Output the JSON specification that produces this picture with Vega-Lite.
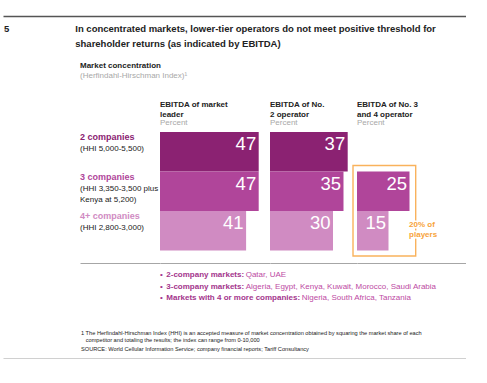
{
  "$schema": "https://vega.github.io/schema/vega-lite/v6.json",
  "padding": {"left": 0, "top": 16, "right": 0, "bottom": 0},
  "autosize": {"type": "pad"},
  "background": "#ffffff",
  "spacing": 0,
  "config": {
    "view": {"stroke": null},
    "font": "Liberation Sans",
    "title": {"anchor": "start", "frame": "group", "font": "Liberation Sans", "subtitleFont": "Liberation Sans"}
  },
  "datasets": {
    "ebitda": [
      {"row": "2 companies", "col": "c1", "value": 47},
      {"row": "3 companies", "col": "c1", "value": 47},
      {"row": "4+ companies", "col": "c1", "value": 41},
      {"row": "2 companies", "col": "c2", "value": 37},
      {"row": "3 companies", "col": "c2", "value": 35},
      {"row": "4+ companies", "col": "c2", "value": 30},
      {"row": "3 companies", "col": "c3", "value": 25},
      {"row": "4+ companies", "col": "c3", "value": 15}
    ],
    "rows": [
      {"row": "2 companies", "name": "2 companies", "detail": "(HHI 5,000-5,500)"},
      {"row": "3 companies", "name": "3 companies", "detail": "(HHI 3,350-3,500 plus\nKenya at 5,200)"},
      {"row": "4+ companies", "name": "4+ companies", "detail": "(HHI 2,800-3,000)"}
    ],
    "bullets": [
      {"line": 1, "prefix": "2-company markets:", "rest": "Qatar, UAE"},
      {"line": 2, "prefix": "3-company markets:", "rest": "Algeria, Egypt, Kenya, Kuwait, Morocco, Saudi Arabia"},
      {"line": 3, "prefix": "Markets with 4 or more companies:", "rest": "Nigeria, South Africa, Tanzania"}
    ],
    "note": [{"note": "20% of\nplayers"}]
  },
  "vconcat": [
    {
      "width": 463,
      "height": 46,
      "title": {
        "text": ["5\u00a0\u00a0\u00a0\u00a0\u00a0\u00a0\u00a0\u00a0\u00a0\u00a0\u00a0\u00a0\u00a0\u00a0\u00a0\u00a0\u00a0\u00a0\u00a0\u00a0\u00a0\u00a0\u00a0\u00a0\u00a0In concentrated markets, lower-tier operators do not meet positive threshold for", "\u200b\u00a0\u00a0\u00a0\u00a0\u00a0\u00a0\u00a0\u00a0\u00a0\u00a0\u00a0\u00a0\u00a0\u00a0\u00a0\u00a0\u00a0\u00a0\u00a0\u00a0\u00a0\u00a0\u00a0\u00a0\u00a0\u00a0\u00a0shareholder returns (as indicated by EBITDA)"],
        "orient": "top", "anchor": "start", "frame": "group", "dx": 1, "offset": -32,
        "fontSize": 9.5, "fontWeight": "bold", "color": "#222222", "lineHeight": 15
      },
      "data": {"values": [{}]},
      "mark": {"type": "point", "opacity": 0},
      "encoding": {
        "x": {"datum": 0, "type": "quantitative", "scale": {"domain": [0, 1], "nice": false},
          "axis": {"orient": "top", "domain": true, "domainColor": "#555555", "domainWidth": 1.3, "ticks": false, "labels": false, "grid": false, "title": null}}
      }
    },
    {
      "bounds": "flush",
      "spacing": 0,
      "hconcat": [
        {"width": 77, "height": 131, "data": {"values": []}, "mark": "point", "encoding": {}},
        {
          "width": 80, "height": 131,
          "title": {"text": "Market concentration", "subtitle": "(Herfindahl-Hirschman Index)¹", "fontSize": 8, "fontWeight": "bold", "color": "#222222", "subtitleFontSize": 8, "subtitleColor": "#A8A8A8", "subtitlePadding": 2, "offset": 52, "anchor": "start", "frame": "group"},
          "data": {"name": "rows"},
          "encoding": {
            "x": {"datum": 0, "type": "quantitative", "scale": {"domain": [0, 1], "nice": false},
              "axis": {"orient": "bottom", "domain": true, "domainColor": "#A6A6A6", "domainWidth": 1, "ticks": false, "labels": false, "grid": false, "title": null}},
            "y": {"field": "row", "type": "nominal", "bandPosition": 0, "scale": {"type": "band", "domain": ["2 companies", "3 companies", "4+ companies"], "paddingInner": 0, "paddingOuter": 0.158, "align": 0}, "axis": null}
          },
          "layer": [
            {"mark": {"type": "text", "align": "left", "baseline": "alphabetic", "dy": 8, "fontSize": 9, "fontWeight": "bold"},
              "encoding": {"text": {"field": "name"}, "color": {"field": "row", "type": "nominal", "scale": {"domain": ["2 companies", "3 companies", "4+ companies"], "range": ["#8B2272", "#B0459A", "#D08BC2"]}, "legend": null}}},
            {"mark": {"type": "text", "align": "left", "baseline": "alphabetic", "dy": 19, "fontSize": 8, "lineHeight": 11, "lineBreak": "\n", "color": "#1A1A1A"},
              "encoding": {"text": {"field": "detail"}}}
          ]
        },
        {
          "width": 110, "height": 131,
          "title": {"text": ["EBITDA of market", "leader"], "subtitle": "Percent", "fontSize": 8, "fontWeight": "bold", "color": "#222222", "lineHeight": 10, "subtitleFontSize": 8, "subtitleColor": "#A8A8A8", "subtitlePadding": 0, "offset": 5, "anchor": "start", "frame": "group"},
          "data": {"name": "ebitda"},
          "transform": [{"filter": "datum.col === 'c1'"}],
          "layer": [
            {"mark": {"type": "bar"},
              "encoding": {
                "x": {"field": "value", "type": "quantitative", "scale": {"domain": [0, 52.38], "nice": false, "zero": false},
                  "axis": {"orient": "bottom", "domain": true, "domainColor": "#A6A6A6", "domainWidth": 1, "ticks": false, "labels": false, "grid": false, "title": null}},
                "y": {"field": "row", "type": "nominal", "scale": {"type": "band", "domain": ["2 companies", "3 companies", "4+ companies"], "paddingInner": 0, "paddingOuter": 0.158, "align": 0}, "axis": null},
                "color": {"field": "row", "type": "nominal", "scale": {"domain": ["2 companies", "3 companies", "4+ companies"], "range": ["#8B2272", "#AD4597", "#CC83BA"]}, "legend": null}
              }},
            {"mark": {"type": "text", "align": "right", "baseline": "alphabetic", "dx": -2.5, "dy": 18, "fontSize": 18.5, "color": "#ffffff"},
              "encoding": {
                "x": {"field": "value", "type": "quantitative"},
                "y": {"field": "row", "type": "nominal", "bandPosition": 0},
                "text": {"field": "value", "type": "quantitative"}
              }}
          ]
        },
        {
          "width": 87, "height": 131,
          "title": {"text": ["EBITDA of No.", "2 operator"], "subtitle": "Percent", "fontSize": 8, "fontWeight": "bold", "color": "#222222", "lineHeight": 10, "subtitleFontSize": 8, "subtitleColor": "#A8A8A8", "subtitlePadding": 0, "offset": 5, "anchor": "start", "frame": "group"},
          "data": {"name": "ebitda"},
          "transform": [{"filter": "datum.col === 'c2'"}],
          "layer": [
            {"mark": {"type": "bar"},
              "encoding": {
                "x": {"field": "value", "type": "quantitative", "scale": {"domain": [0, 41.43], "nice": false, "zero": false},
                  "axis": {"orient": "bottom", "domain": true, "domainColor": "#A6A6A6", "domainWidth": 1, "ticks": false, "labels": false, "grid": false, "title": null}},
                "y": {"field": "row", "type": "nominal", "scale": {"type": "band", "domain": ["2 companies", "3 companies", "4+ companies"], "paddingInner": 0, "paddingOuter": 0.158, "align": 0}, "axis": null},
                "color": {"field": "row", "type": "nominal", "scale": {"domain": ["2 companies", "3 companies", "4+ companies"], "range": ["#8B2272", "#AD4597", "#CC83BA"]}, "legend": null}
              }},
            {"mark": {"type": "text", "align": "right", "baseline": "alphabetic", "dx": -2.5, "dy": 18, "fontSize": 18.5, "color": "#ffffff"},
              "encoding": {
                "x": {"field": "value", "type": "quantitative"},
                "y": {"field": "row", "type": "nominal", "bandPosition": 0},
                "text": {"field": "value", "type": "quantitative"}
              }}
          ]
        },
        {
          "width": 109, "height": 131,
          "title": {"text": ["EBITDA of No. 3", "and 4 operator"], "subtitle": "Percent", "fontSize": 8, "fontWeight": "bold", "color": "#222222", "lineHeight": 10, "subtitleFontSize": 8, "subtitleColor": "#A8A8A8", "subtitlePadding": 0, "offset": 5, "anchor": "start", "frame": "group"},
          "layer": [
            {"data": {"name": "ebitda"},
              "transform": [{"filter": "datum.col === 'c3'"}],
              "mark": {"type": "bar"},
              "encoding": {
                "x": {"field": "value", "type": "quantitative", "scale": {"domain": [0, 51.9], "nice": false, "zero": false},
                  "axis": {"orient": "bottom", "domain": true, "domainColor": "#A6A6A6", "domainWidth": 1, "ticks": false, "labels": false, "grid": false, "title": null}},
                "y": {"field": "row", "type": "nominal", "scale": {"type": "band", "domain": ["2 companies", "3 companies", "4+ companies"], "paddingInner": 0, "paddingOuter": 0.158, "align": 0}, "axis": null},
                "color": {"field": "row", "type": "nominal", "scale": {"domain": ["2 companies", "3 companies", "4+ companies"], "range": ["#8B2272", "#AD4597", "#CC83BA"]}, "legend": null}
              }},
            {"data": {"name": "ebitda"},
              "transform": [{"filter": "datum.col === 'c3'"}],
              "mark": {"type": "text", "align": "right", "baseline": "alphabetic", "dx": -2.5, "dy": 18, "fontSize": 18.5, "color": "#ffffff"},
              "encoding": {
                "x": {"field": "value", "type": "quantitative"},
                "y": {"field": "row", "type": "nominal", "bandPosition": 0},
                "text": {"field": "value", "type": "quantitative"}
              }},
            {"data": {"values": [{}]},
              "mark": {"type": "rect", "fill": null, "fillOpacity": 0, "stroke": "#F9B25C", "strokeWidth": 1.4, "yOffset": -6, "y2Offset": 5.5},
              "encoding": {
                "x": {"datum": -1.9, "type": "quantitative"},
                "x2": {"datum": 27.95},
                "y": {"datum": "3 companies", "type": "nominal", "bandPosition": 0},
                "y2": {"datum": "4+ companies", "bandPosition": 1}
              }},
            {"data": {"name": "note"},
              "mark": {"type": "text", "align": "left", "baseline": "alphabetic", "dy": 15.5, "fontSize": 8, "fontWeight": "bold", "lineHeight": 10.7, "lineBreak": "\n", "stroke": "#ffffff", "strokeWidth": 3, "color": "#ffffff"},
              "encoding": {
                "x": {"datum": 24.8, "type": "quantitative"},
                "y": {"datum": "4+ companies", "type": "nominal", "bandPosition": 0},
                "text": {"field": "note"}
              }},
            {"data": {"name": "note"},
              "mark": {"type": "text", "align": "left", "baseline": "alphabetic", "dy": 15.5, "fontSize": 8, "fontWeight": "bold", "lineHeight": 10.7, "lineBreak": "\n", "color": "#F7A33A"},
              "encoding": {
                "x": {"datum": 24.8, "type": "quantitative"},
                "y": {"datum": "4+ companies", "type": "nominal", "bandPosition": 0},
                "text": {"field": "note"}
              }}
          ]
        }
      ]
    },
    {
      "bounds": "flush",
      "spacing": 0,
      "hconcat": [
        {"width": 157, "height": 47, "data": {"values": []}, "mark": "point", "encoding": {}},
        {
          "width": 306, "height": 47,
          "data": {"name": "bullets"},
          "encoding": {
            "x": {"datum": 0, "type": "quantitative", "scale": {"domain": [0, 1], "nice": false}, "axis": null},
            "y": {"field": "line", "type": "ordinal", "scale": {"type": "band", "paddingInner": 0, "paddingOuter": 0.517}, "axis": null}
          },
          "layer": [
            {"mark": {"type": "text", "align": "left", "baseline": "middle", "fontSize": 8, "color": "#A3358C"},
              "encoding": {"text": {"value": "•"}}},
            {"mark": {"type": "text", "align": "left", "baseline": "middle", "dx": 6.3, "fontSize": 8, "fontWeight": "bold", "color": "#A3358C"},
              "encoding": {"text": {"field": "prefix"}}},
            {"transform": [{"filter": "datum.line < 3"}],
              "mark": {"type": "text", "align": "left", "baseline": "middle", "dx": 85.7, "fontSize": 8, "color": "#BD4AA3"},
              "encoding": {"text": {"field": "rest"}}},
            {"transform": [{"filter": "datum.line == 3"}],
              "mark": {"type": "text", "align": "left", "baseline": "middle", "dx": 141.7, "fontSize": 8, "color": "#BD4AA3"},
              "encoding": {"text": {"field": "rest"}}}
          ]
        }
      ]
    },
    {
      "width": 463,
      "height": 49,
      "title": {
        "text": ["1 The Herfindahl-Hirschman Index (HHI) is an accepted measure of market concentration obtained by squaring the market share of each", "\u200b\u00a0\u00a0 competitor and totaling the results; the index can range from 0-10,000"],
        "subtitle": "SOURCE: World Cellular Information Service; company financial reports; Tariff Consultancy",
        "orient": "top", "anchor": "start", "frame": "group", "dx": 78, "offset": -43,
        "fontSize": 5.65, "fontWeight": "normal", "color": "#222222", "lineHeight": 6.5,
        "subtitleFontSize": 5.65, "subtitleColor": "#222222", "subtitlePadding": 4
      },
      "data": {"values": [{}]},
      "mark": {"type": "point", "opacity": 0},
      "encoding": {
        "x": {"datum": 0, "type": "quantitative", "scale": {"domain": [0, 1], "nice": false},
          "axis": {"orient": "bottom", "domain": true, "domainColor": "#444444", "domainWidth": 1.3, "ticks": false, "labels": false, "grid": false, "title": null}}
      }
    }
  ]
}
